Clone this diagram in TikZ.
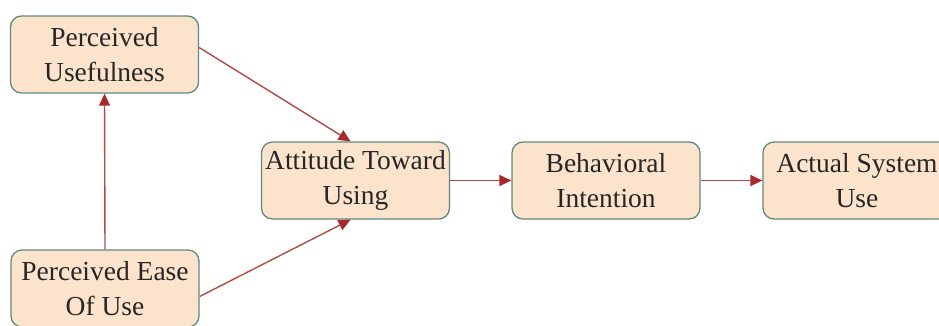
\documentclass[tikz,border=0pt]{standalone}
\usepackage{fontspec}
\setmainfont{Liberation Serif}
\usetikzlibrary{arrows.meta,calc}
\definecolor{boxfill}{HTML}{FCE4CC}
\definecolor{boxline}{HTML}{5F8A7D}
\definecolor{arrowred}{HTML}{B04A48}
\definecolor{tipred}{HTML}{A8292C}
\definecolor{txt}{HTML}{262626}
\tikzset{
  tambox/.style={draw=boxline, line width=1.3pt, fill=boxfill, rounded corners=11pt,
    minimum width=188pt, minimum height=77pt, inner sep=0pt, align=center,
    text=txt, font=\fontsize{27.5}{35}\selectfont},
  link/.style={draw=arrowred, line width=1.4pt,
    -{Triangle[length=12pt,width=11pt,color=tipred]}}
}
\begin{document}
\begin{tikzpicture}[x=1pt,y=-1pt]
\useasboundingbox (0,0) rectangle (939,325);
\begin{scope}
\clip (0,0) rectangle (939,325);
\node[tambox] (PU) at (104.5,54.5) {Perceived\\Usefulness};
\node[tambox] (PEOU) at (105,288.5) {Perceived Ease\\Of Use};
\node[tambox] (ATU) at (355.5,180.5) {Attitude Toward\\Using};
\node[tambox] (BI) at (606,180.5) {Behavioral\\Intention};
\node[tambox] (ASU) at (857,180.5) {Actual System\\Use};
\draw[link] ($(PU.east)+(0,-7)$) -- ($(ATU.north)+(-5,0)$);
\draw[link] ($(PEOU.east)+(0,8)$) -- ($(ATU.south)+(-5,0)$);
\draw[link] (PEOU.north) -- (PU.south);
\draw[link] (ATU.east) -- (BI.west);
\draw[link] (BI.east) -- (ASU.west);
\end{scope}
\end{tikzpicture}
\end{document}
